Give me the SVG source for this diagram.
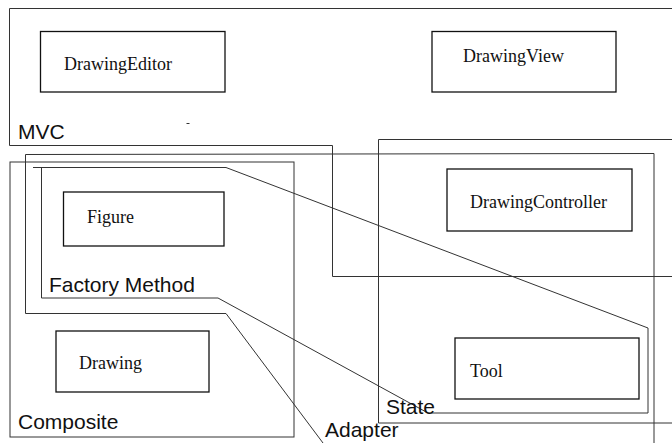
<svg xmlns="http://www.w3.org/2000/svg" width="672" height="443" viewBox="0 0 672 443">
<style>
.region{fill:none;stroke:#333;stroke-width:1}
.box{fill:#fff;stroke:#111;stroke-width:1.3}
.cls{font-family:"Liberation Serif","Times New Roman",serif;font-size:18px;fill:#111}
.lbl{font-family:"Liberation Sans",Arial,sans-serif;font-size:21px;fill:#111}
</style>
<rect width="672" height="443" fill="#fff"/>
<g id="connectors">
  <g id="mvc">
    <polyline class="region" points="672,8.5 9.5,8.5 9.5,145.5 332.5,145.5 332.5,276.5 672,276.5"/>
    <text class="lbl" x="18" y="139">MVC</text>
    <line x1="186.5" y1="123.5" x2="189.5" y2="123.5" stroke="#333" stroke-width="1"/>
  </g>
  <g id="adapter">
    <polyline class="region" points="654,443 654,153.5 25.5,154.5 25.5,313.5 226,313.5 323,443"/>
    <text class="lbl" x="325" y="437">Adapter</text>
  </g>
  <g id="composite">
    <rect class="region" x="10" y="162" width="284" height="275"/>
    <text class="lbl" x="18" y="429">Composite</text>
  </g>
  <g id="factory-method">
    <polyline class="region" points="33,167.5 226,167.5 648,328 648,413 428,413 218,298 41.5,298 41.5,167.5"/>
    <text class="lbl" x="49" y="292">Factory Method</text>
  </g>
  <g id="state">
    <polyline class="region" points="672,139.5 378.5,139.5 378.5,423 672,423"/>
    <text class="lbl" x="386" y="414">State</text>
  </g>
</g>
<g id="DrawingEditor">
  <rect class="box" x="40.5" y="31.5" width="184.5" height="60.5"/>
  <text class="cls" x="64" y="70">DrawingEditor</text>
</g>
<g id="DrawingView">
  <rect class="box" x="432" y="31.5" width="184" height="60.5"/>
  <text class="cls" x="463" y="62">DrawingView</text>
</g>
<g id="DrawingController">
  <rect class="box" x="447" y="169" width="185" height="62"/>
  <text class="cls" x="470" y="208">DrawingController</text>
</g>
<g id="Figure">
  <rect class="box" x="63.5" y="192" width="160.5" height="54"/>
  <text class="cls" x="87" y="223">Figure</text>
</g>
<g id="Drawing">
  <rect class="box" x="56" y="331" width="153" height="61"/>
  <text class="cls" x="79" y="369">Drawing</text>
</g>
<g id="Tool">
  <rect class="box" x="455" y="338" width="184" height="61"/>
  <text class="cls" x="470" y="377">Tool</text>
</g>
</svg>
